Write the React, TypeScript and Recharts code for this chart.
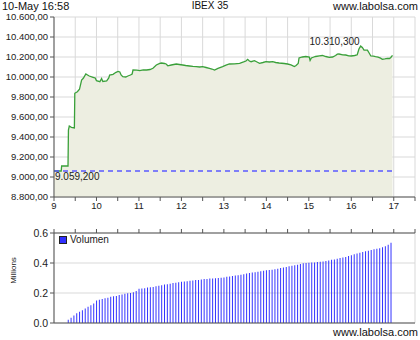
import React from 'react';
import {
  AreaChart, Area, XAxis, YAxis, CartesianGrid, ReferenceLine, ReferenceDot,
  BarChart, Bar, Legend,
} from 'recharts';

// ---- Data ----
const priceTimes = [
  9.0, 9.17, 9.18, 9.33, 9.34, 9.36, 9.41, 9.48, 9.49, 9.55, 9.6, 9.65, 9.69, 9.75, 9.79, 9.83, 9.92, 9.97,
  10.0, 10.08, 10.12, 10.15, 10.24, 10.29, 10.31, 10.39, 10.46, 10.51, 10.55, 10.58, 10.62, 10.69, 10.74, 10.8, 10.84, 10.86, 10.95,
  11.02, 11.1, 11.18, 11.26, 11.33, 11.41, 11.49, 11.53, 11.6, 11.64, 11.68, 11.76, 11.88, 11.95,
  12.03, 12.1, 12.19, 12.27, 12.35, 12.43, 12.5, 12.58, 12.66, 12.72, 12.78, 12.86, 12.97,
  13.05, 13.13, 13.25, 13.37, 13.48, 13.52, 13.56, 13.6, 13.64, 13.72, 13.78, 13.84, 13.92, 13.99,
  14.07, 14.15, 14.22, 14.3, 14.42, 14.5, 14.58, 14.66, 14.7, 14.75, 14.77, 14.85, 14.93,
  15.01, 15.03, 15.06, 15.09, 15.16, 15.25, 15.32, 15.4, 15.48, 15.56, 15.63, 15.67, 15.71, 15.8, 15.87, 15.94,
  16.0, 16.08, 16.14, 16.18, 16.22, 16.26, 16.3, 16.38, 16.42, 16.46, 16.52, 16.57, 16.63, 16.69, 16.73, 16.79, 16.85, 16.9, 16.93, 16.97,
];
const prices = [
  9060, 9060, 9110, 9110, 9470, 9510, 9497, 9490, 9837, 9853, 9877, 9970, 9987, 10030, 10020, 10010, 9997, 9990,
  9963, 9953, 9985, 9955, 9960, 9990, 10020, 10027, 10047, 10055, 10050, 10020, 10003, 10000, 10010, 10020, 10030, 10070, 10068,
  10063, 10072, 10070, 10075, 10087, 10120, 10137, 10140, 10135, 10130, 10112, 10120, 10130, 10125,
  10120, 10115, 10110, 10106, 10103, 10100, 10103, 10095, 10087, 10080, 10070, 10087, 10103,
  10118, 10130, 10132, 10137, 10153, 10160, 10177, 10160, 10153, 10163, 10150, 10137, 10145, 10153,
  10150, 10153, 10145, 10140, 10135, 10130, 10122, 10105, 10115, 10135, 10190, 10200, 10205,
  10200, 10165, 10190, 10195, 10205, 10212, 10215, 10205, 10197, 10200, 10215, 10228, 10230, 10222, 10220, 10212,
  10210, 10215, 10222, 10280, 10310.3, 10295, 10270, 10268, 10240, 10210, 10208, 10203, 10198, 10188, 10178, 10182, 10187, 10185, 10195, 10217,
];
// cumulative volume (millions), one value every 4 minutes from 9:20 to 16:56
const volumes = [
  0.022, 0.035, 0.05, 0.065, 0.075, 0.085, 0.097, 0.108, 0.118, 0.13,
  0.15, 0.155, 0.16, 0.165, 0.168, 0.175, 0.178, 0.18, 0.186, 0.19, 0.195, 0.198, 0.2, 0.205, 0.213,
  0.228, 0.23, 0.232, 0.236, 0.238, 0.24, 0.245, 0.248, 0.252, 0.256, 0.259, 0.261, 0.266, 0.268, 0.272,
  0.275, 0.277, 0.279, 0.281, 0.284, 0.286, 0.287, 0.29, 0.293, 0.294, 0.296, 0.297, 0.298, 0.3, 0.301,
  0.304, 0.308, 0.31, 0.313, 0.316, 0.318, 0.322, 0.325, 0.33, 0.333, 0.336, 0.338, 0.342, 0.345, 0.349,
  0.352, 0.353, 0.355, 0.358, 0.362, 0.366, 0.37, 0.374, 0.378, 0.381, 0.385, 0.389, 0.394, 0.398, 0.4,
  0.402, 0.403, 0.404, 0.406, 0.408, 0.41, 0.413, 0.417, 0.421, 0.424, 0.428, 0.434, 0.437, 0.44, 0.447,
  0.452, 0.458, 0.464, 0.469, 0.473, 0.478, 0.482, 0.486, 0.491, 0.495, 0.499, 0.505, 0.512, 0.522, 0.535,
];
const volStartHour = 9 + 20 / 60;
const volStepHours = 4 / 60;

const halfHourTicks = [9, 9.5, 10, 10.5, 11, 11.5, 12, 12.5, 13, 13.5, 14, 14.5, 15, 15.5, 16, 16.5, 17, 17.5];
const hourTicks = [9, 10, 11, 12, 13, 14, 15, 16, 17];
const priceTicks = [8800, 9000, 9200, 9400, 9600, 9800, 10000, 10200, 10400, 10600];
const volTicks = [0, 0.2, 0.4, 0.6];
const prevClose = 9059.2;
const dayHigh = 10310.3;
const dayHighTime = 16.22;
const headerDate = '10-May 16:58';
const headerTitle = 'IBEX 35';
const siteName = 'www.labolsa.com';
const volName = 'Volumen';
const volUnit = 'Millions';

const priceData = priceTimes.map((t, i) => ({ t, p: prices[i] }));
const volData = volumes.map((v, i) => ({ t: volStartHour + i * volStepHours, v }));

const esNum = (v: number, d: number) => {
  const [ip, fp] = v.toFixed(d).split('.');
  return ip.replace(/\B(?=(\d{3})+(?!\d))/g, '.') + (fp ? ',' + fp : '');
};

const FONT = '"Liberation Sans", Arial, sans-serif';
const tickStyle = { fontSize: 9.5, fill: '#222', fontFamily: FONT };
const axisDark = { stroke: '#555' };
const axisLight = { stroke: '#8a8a8a' };

const PrevLabel = (props: any) => {
  const vb = props.viewBox || {};
  return (
    <text x={(vb.x ?? 0) + 1} y={(vb.y ?? 0) + 9} fontSize={10} fill="#222" fontFamily={FONT}>
      {esNum(prevClose, 3)}
    </text>
  );
};

const HighLabel = (props: any) => {
  const vb = props.viewBox || {};
  const cx = (vb.x ?? 0) + (vb.width ?? 0) / 2;
  const cy = (vb.y ?? 0) + (vb.height ?? 0) / 2;
  return (
    <text x={cx - 1} y={cy - 1} textAnchor="end" fontSize={10} fill="#222" fontFamily={FONT}>
      {esNum(dayHigh, 3)}
    </text>
  );
};

const VolLegend = () => (
  <div style={{ display: 'flex', alignItems: 'center', fontFamily: FONT, fontSize: 10, color: '#222' }}>
    <span style={{ display: 'inline-block', width: 6, height: 6, background: '#3030ff', border: '1px solid #222', marginRight: 3 }} />
    {volName}
  </div>
);

export default function App() {
  return (
    <div style={{ position: 'absolute', left: 0, top: 0, width: 420, height: 340, background: '#fff', fontFamily: FONT }}>
      <div style={{ position: 'absolute', left: 2, top: 0, fontSize: 11, color: '#111' }}>{headerDate}</div>
      <div style={{ position: 'absolute', left: 0, width: 420, top: 0, textAlign: 'center', fontSize: 10, color: '#111' }}>{headerTitle}</div>
      <div style={{ position: 'absolute', right: 2, top: 0, fontSize: 11, color: '#111' }}>{siteName}</div>

      <div style={{ position: 'absolute', left: 0, top: 0 }}>
        <AreaChart width={420} height={220} data={priceData} margin={{ top: 17, right: 5, bottom: 3, left: 0 }}>
          <CartesianGrid stroke="#d9d9d9" />
          <XAxis dataKey="t" type="number" domain={[9, 17.5]} ticks={halfHourTicks} interval={0}
            tickFormatter={(v: number) => (Number.isInteger(v) && v < 17.5 ? String(v) : '')}
            tick={tickStyle} tickSize={4} tickMargin={1} height={20} axisLine={axisDark} tickLine={axisDark} />
          <XAxis xAxisId="top" orientation="top" type="number" domain={[9, 17.5]} height={0}
            tick={false} tickLine={false} axisLine={axisLight} />
          <YAxis type="number" domain={[8800, 10600]} ticks={priceTicks} interval={0}
            tickFormatter={(v: number) => esNum(v, 2)} width={54} tickSize={4} tickMargin={2}
            tick={tickStyle} axisLine={axisDark} tickLine={axisDark} />
          <YAxis yAxisId="right" orientation="right" width={0} tick={false} tickLine={false} axisLine={axisLight} />
          <Area type="linear" dataKey="p" stroke="#3aa03a" strokeWidth={1.3} fill="#edeee1" fillOpacity={1}
            dot={false} activeDot={false} isAnimationActive={false} />
          <ReferenceLine segment={[{ x: 9, y: prevClose }, { x: 17, y: prevClose }]} stroke="#5a5aff"
            strokeDasharray="5 4" strokeWidth={1.5} label={<PrevLabel />} />
          <ReferenceDot x={dayHighTime} y={dayHigh} r={0} stroke="none" label={<HighLabel />} />
        </AreaChart>
      </div>

      <div style={{ position: 'absolute', left: 0, top: 215 }}>
        <BarChart width={420} height={125} data={volData} margin={{ top: 13, right: 5, bottom: 16, left: 0 }}>
          <CartesianGrid stroke="#d9d9d9" xAxisId="b" />
          <XAxis xAxisId="t" orientation="top" dataKey="t" type="number" domain={[9, 17.5]} ticks={halfHourTicks}
            interval={0} tickFormatter={() => ''} tick={tickStyle} tickSize={4} height={5}
            axisLine={axisDark} tickLine={axisDark} />
          <XAxis xAxisId="b" orientation="bottom" type="number" domain={[9, 17.5]} ticks={hourTicks} interval={0}
            tick={false} tickLine={false} height={1} axisLine={axisDark} />
          <YAxis type="number" domain={[0, 0.6]} ticks={volTicks} interval={0}
            tickFormatter={(v: number) => v.toFixed(1)} width={54} tickSize={4} tickMargin={2}
            tick={{ ...tickStyle, fontSize: 10.5 }} axisLine={axisDark} tickLine={axisDark} />
          <YAxis yAxisId="right" orientation="right" width={0} tick={false} tickLine={false} axisLine={axisLight} />
          <Bar xAxisId="t" dataKey="v" name={volName} fill="#3333ff" barSize={1} isAnimationActive={false} />
          <Legend content={<VolLegend />} layout="horizontal" verticalAlign="middle" align="center"
            wrapperStyle={{ position: 'absolute', top: 19, left: 59, width: 'auto' }} />
        </BarChart>
      </div>

      <div style={{ position: 'absolute', left: -12, top: 266, width: 50, textAlign: 'center', fontSize: 8, color: '#222', transform: 'rotate(-90deg)' }}>
        {volUnit}
      </div>
      <div style={{ position: 'absolute', right: 2, top: 326, fontSize: 11, color: '#111' }}>{siteName}</div>
    </div>
  );
}
